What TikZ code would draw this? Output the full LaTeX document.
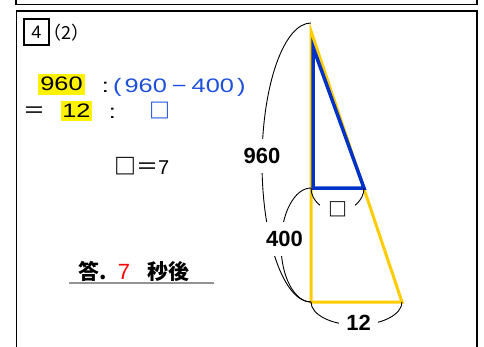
\documentclass[tikz,border=0pt]{standalone}
\usepackage{fontspec}
\usepackage{xcolor}
\setmainfont{Liberation Sans}
\newfontfamily\widefont[FakeStretch=1.3]{Liberation Sans}
\newfontfamily\jpfont{Noto Sans CJK JP}
\definecolor{txtblue}{RGB}{30,80,220}
\definecolor{triblue}{RGB}{0,50,200}
\definecolor{trigold}{RGB}{255,204,0}

\begin{document}
\begin{tikzpicture}[x=1pt,y=-1pt,
    frame/.style={line width=1.5pt},
    numtxt/.style={font=\widefont\fontsize{19.5}{22}\selectfont,inner sep=0pt},
    jptxt/.style={font=\jpfont\bfseries\fontsize{21}{24}\selectfont,inner sep=0pt},
    hilite/.style={numtxt,fill=yellow},
    lentxt/.style={font=\bfseries\fontsize{22}{24}\selectfont,fill=white},
    brace/.style={line width=0.9pt}]
    \useasboundingbox (0,0) rectangle (484,346);
    % frames
    \draw[frame] (16,-10) rectangle (477,4.5);
    \draw[frame] (16.5,11) rectangle (477,360);
    \node[draw,line width=1.2pt,minimum width=25,minimum height=26,inner sep=0pt,
        font=\fontsize{18}{20}\selectfont] (num) at (36.5,32) {4};
    \node[font=\jpfont\fontsize{18}{20}\selectfont,inner sep=0pt,anchor=base west] (part) at (43,39) {（2）};
    % ratio
    \node[hilite,minimum width=47,minimum height=21] (a960) at (61.5,84) {960};
    \node[numtxt,anchor=base] (c1) at (105.5,92) {:};
    \node[numtxt,anchor=base west,text=txtblue] (diff) at (113,92)
        {(\hspace{3pt}960\hspace{5pt}−\hspace{5pt}400\hspace{3pt})};
    \node[jptxt,font=\jpfont\fontsize{22}{22}\selectfont,anchor=base] (eq) at (34.5,118) {＝};
    \node[hilite,minimum width=31,minimum height=20] (a12) at (76.5,111) {12};
    \node[numtxt,anchor=base] (c2) at (112.5,118) {:};
    \node[jptxt,font=\jpfont\bfseries\fontsize{21}{22}\selectfont,text=txtblue,anchor=base] (box1) at (160,118) {□};
    \node[anchor=base west,inner sep=0pt,font=\fontsize{20}{22}\selectfont] (res) at (114,174)
        {{\jpfont\fontsize{22}{24}\selectfont{\bfseries □}＝}7};
    % answer
    \node[jptxt,anchor=base west] (kotae) at (78,279) {答.};
    \node[anchor=base,inner sep=0pt,text=red,font=\fontsize{22}{24}\selectfont] (seven) at (124,279) {7};
    \node[jptxt,anchor=base west] (byougo) at (147,279) {秒後};
    \draw[gray!85,line width=1.3pt] (69,283) -- (214,283);
    % triangles
    \coordinate (top) at (311,23);
    \coordinate (Y1) at (311,31);
    \coordinate (Y2) at (311,302);
    \coordinate (Y3) at (402,302);
    \coordinate (M) at (311,188);
    \coordinate (B1) at (313,47);
    \coordinate (B2) at (313,188);
    \coordinate (B3) at (364,188);
    \draw[trigold,line width=3pt] (Y1) -- (Y2) -- (Y3) -- cycle;
    \draw[triblue,line width=3.5pt] (B1) -- (B2) -- (B3) -- cycle;
    % lengths
    \draw[brace] (top) arc[start angle=270,end angle=90,x radius=49,y radius=139.5];
    \draw[brace] (M) arc[start angle=270,end angle=90,x radius=30,y radius=57];
    \draw[brace] (M) arc[start angle=180,end angle=0,x radius=26.5,y radius=23];
    \draw[brace] (Y2) arc[start angle=180,end angle=0,x radius=45.5,y radius=23];
    \node[lentxt,inner xsep=2pt,inner ysep=9pt] (l960) at (262,156) {960};
    \node[lentxt,inner xsep=2pt,inner ysep=9pt] (l400) at (284.5,239) {400};
    \node[lentxt,font=\jpfont\bfseries\fontsize{19}{22}\selectfont,inner xsep=8pt,inner ysep=2pt,anchor=base] (lbox) at (337.5,216) {□};
    \node[lentxt,inner xsep=7pt,inner ysep=2pt] (l12) at (358.5,322.5) {12};
\end{tikzpicture}
\end{document}
